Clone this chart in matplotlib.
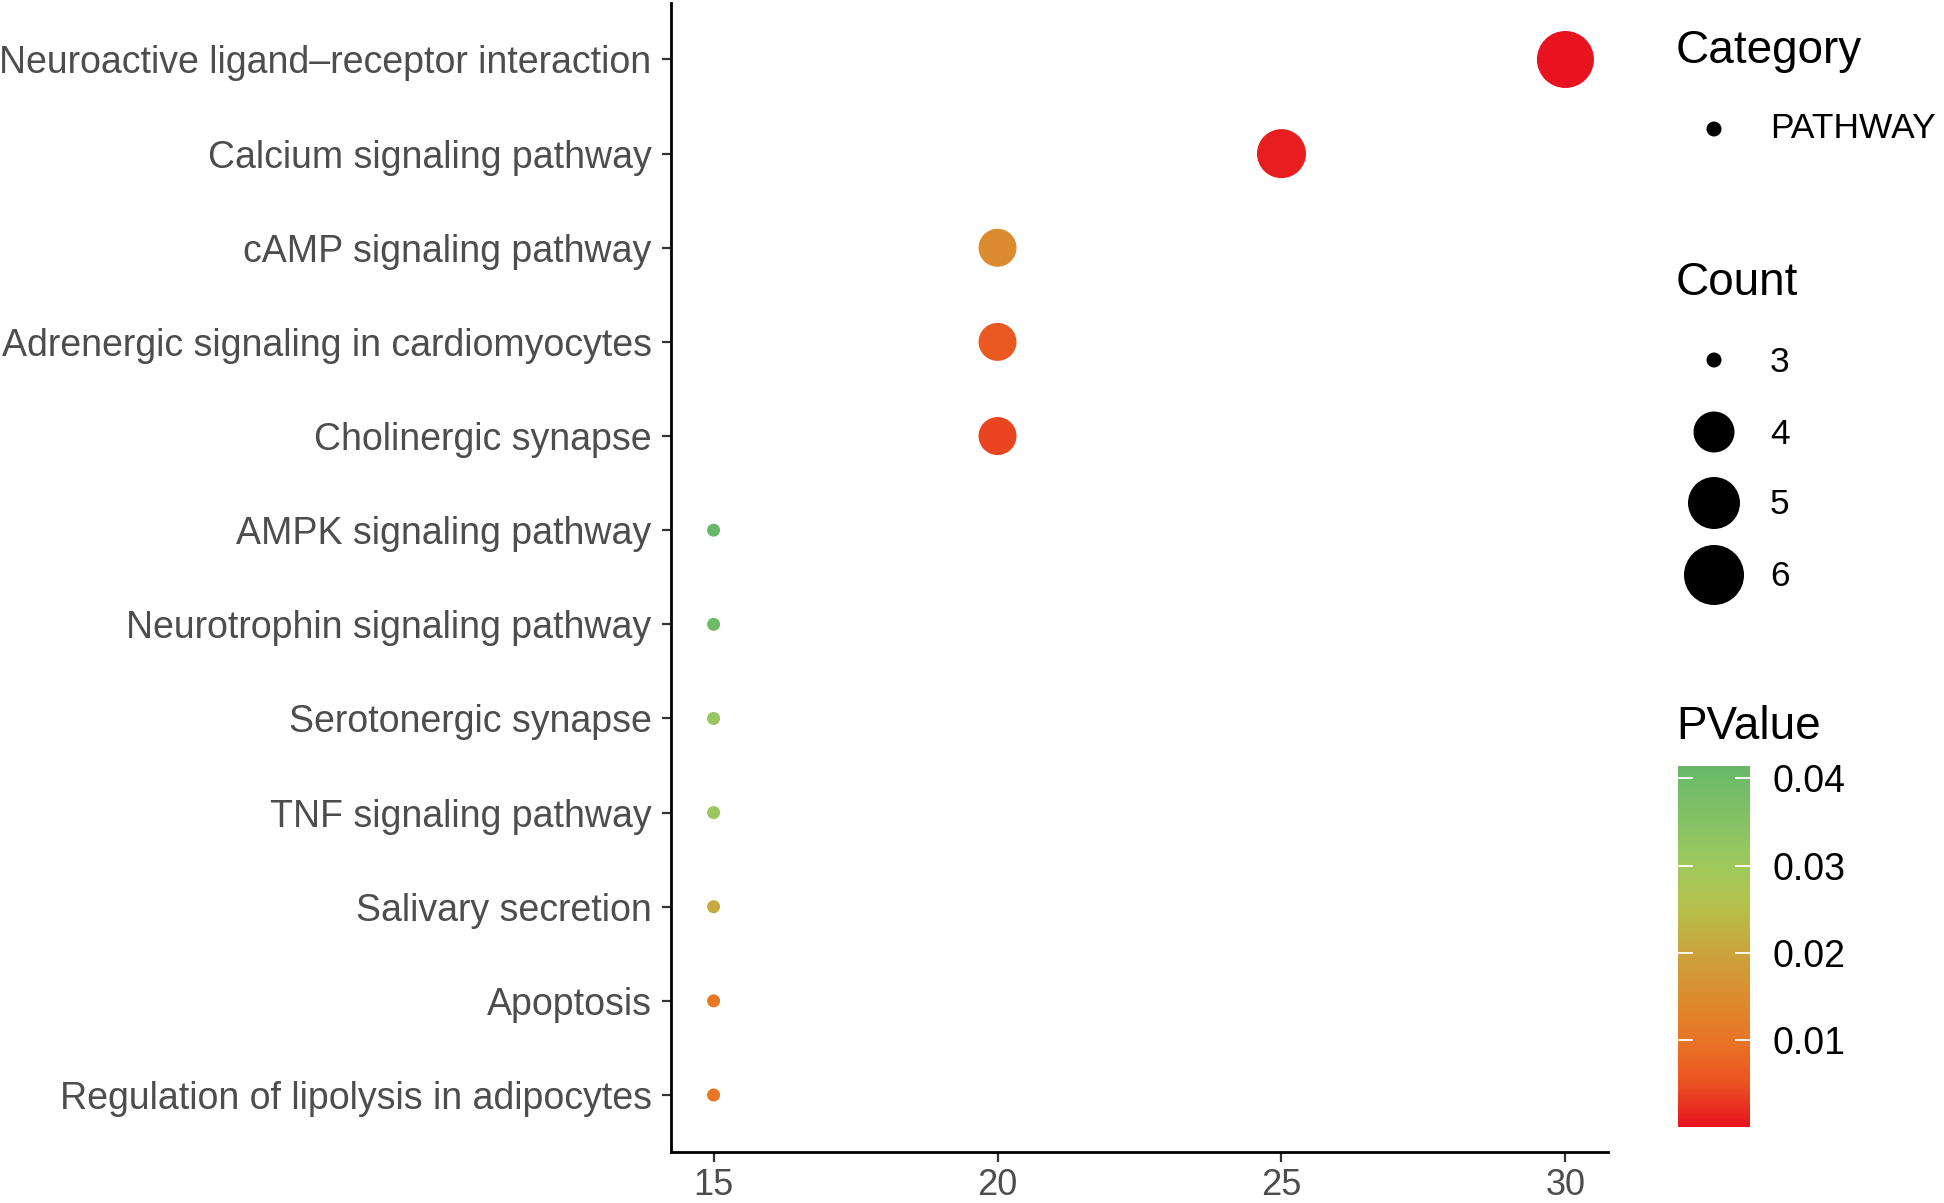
import matplotlib
matplotlib.use("Agg")
import matplotlib.pyplot as plt
import numpy as np
from matplotlib.colors import LinearSegmentedColormap, Normalize
from matplotlib.colorbar import ColorbarBase

plt.rcParams['font.family'] = ['Liberation Sans', 'DejaVu Sans']

# ---------------- data ----------------
pathways = [
    "Neuroactive ligand\u2013receptor interaction",
    "Calcium signaling pathway",
    "cAMP signaling pathway",
    "Adrenergic signaling in cardiomyocytes",
    "Cholinergic synapse",
    "AMPK signaling pathway",
    "Neurotrophin signaling pathway",
    "Serotonergic synapse",
    "TNF signaling pathway",
    "Salivary secretion",
    "Apoptosis",
    "Regulation of lipolysis in adipocytes",
]
ratio = [30, 25, 20, 20, 20, 15, 15, 15, 15, 15, 15, 15]
count = [6, 5, 4, 4, 4, 3, 3, 3, 3, 3, 3, 3]
pvalue = [0.00005, 0.0009, 0.0150, 0.0060, 0.0040, 0.0414, 0.0400,
          0.0320, 0.0310, 0.0215, 0.0110, 0.0098]
category_labels = ["PATHWAY"]
count_breaks = [3, 4, 5, 6]
pvalue_ticks = [0.01, 0.02, 0.03, 0.04]
x_ticks = [15, 20, 25, 30]

# ---------------- style ----------------
W, H = 1944, 1203
DPI = 100
cmap = LinearSegmentedColormap.from_list("pv", [
    (0.00, "#E8131F"), (0.12, "#EA5321"), (0.24, "#E97524"),
    (0.36, "#DC8C2E"), (0.48, "#CCA23A"), (0.60, "#B6C04A"),
    (0.72, "#A0C95B"), (0.84, "#86C265"), (0.97, "#6DBB67"),
    (1.00, "#67B868")])

def diam_px(c, legend=False):
    # count -> marker diameter in pixels (size scale)
    if legend:
        return np.interp(c, [3, 4, 5, 6], [15, 41, 52, 60])
    return np.interp(c, [3, 4, 5, 6], [13, 38, 49, 57])

def s_of(c, legend=False):
    d_pt = diam_px(c, legend) * 72.0 / DPI
    return d_pt ** 2

fig = plt.figure(figsize=(W / DPI, H / DPI), dpi=DPI)

# main axes in pixel layout
ax_l, ax_r, ax_t, ax_b = 671, 1608, 3, 1151.5
ax = fig.add_axes([ax_l / W, (H - ax_b) / H, (ax_r - ax_l) / W, (ax_b - ax_t) / H])

n = len(pathways)
ypos = np.arange(n)[::-1] + 1  # first row at top
norm = Normalize(vmin=min(pvalue), vmax=max(pvalue))
ax.scatter(ratio, ypos, s=[s_of(c) for c in count], c=pvalue, cmap=cmap,
           norm=norm, edgecolors='none', zorder=3)

xmin, xmax = min(ratio), max(ratio)
xr = xmax - xmin
ax.set_xlim(xmin - 0.05 * xr, xmax + 0.05 * xr)
ax.set_ylim(0.4, n + 0.6)
ax.set_yticks(ypos)
ax.set_yticklabels(pathways)
ax.set_xticks(x_ticks)
ax.set_xticklabels([str(v) for v in x_ticks])

for side in ['top', 'right']:
    ax.spines[side].set_visible(False)
for side in ['left', 'bottom']:
    ax.spines[side].set_linewidth(2.0)
    ax.spines[side].set_color('black')
ax.tick_params(axis='y', length=6.5, width=1.6, color='#333333', pad=7.5,
               labelsize=27, labelcolor='#4D4D4D')
ax.tick_params(axis='x', length=7, width=1.6, color='#333333', pad=5,
               labelsize=26, labelcolor='#4D4D4D')

# legend overlay in pixel coordinates
lax = fig.add_axes([0, 0, 1, 1], zorder=-1)
lax.set_xlim(0, W)
lax.set_ylim(H, 0)
lax.axis('off')

lx = 1676
key_x = 1714
lab_x = 1770
lax.text(lx, 63, "Category", fontsize=33, color='black', va='baseline', ha='left')
lax.scatter([key_x], [129], s=s_of(3, True), color='black', edgecolors='none')
lax.text(lab_x, 129, category_labels[0], fontsize=25.5, color='black', va='center', ha='left')

lax.text(lx, 295, "Count", fontsize=33, color='black', va='baseline', ha='left')
key_ys = [360, 432, 503, 575]
for cb, ky in zip(count_breaks, key_ys):
    lax.scatter([key_x], [ky], s=s_of(cb, True), color='black', edgecolors='none')
    lax.text(lab_x, ky + 2, str(cb), fontsize=25.5, color='black', va='center', ha='left')

lax.text(lx, 739, "PValue", fontsize=33, color='black', va='baseline', ha='left')

# colorbar
cb_l, cb_r, cb_t, cb_b = 1678, 1750, 766, 1127
cax = fig.add_axes([cb_l / W, (H - cb_b) / H, (cb_r - cb_l) / W, (cb_b - cb_t) / H])
cbar = ColorbarBase(cax, cmap=cmap, norm=norm, orientation='vertical')
cbar.outline.set_visible(False)
cbar.set_ticks(pvalue_ticks)
cbar.set_ticklabels([f"{v:.2f}" for v in pvalue_ticks])
cax.tick_params(length=0, labelsize=27, pad=16, labelcolor='black')
for v in pvalue_ticks:
    cax.plot([0, 0.2], [v, v], color='white', lw=1.3)
    cax.plot([0.8, 1.0], [v, v], color='white', lw=1.3)
cax.set_xlim(0, 1)

fig.savefig("out.png", dpi=DPI)
